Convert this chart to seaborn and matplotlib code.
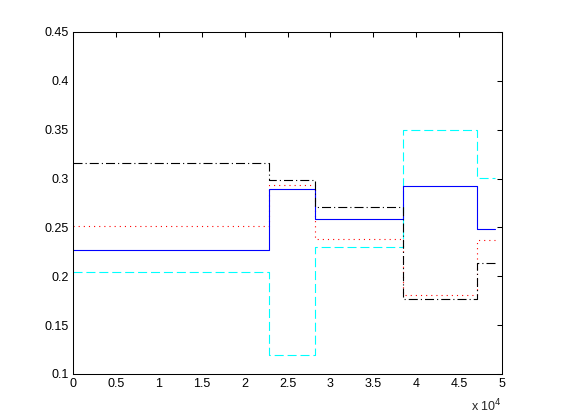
import numpy as np
import pandas as pd
import matplotlib
matplotlib.use("Agg")
import matplotlib.pyplot as plt
import seaborn as sns

# Step edges along x (the last value is repeated so the final segment is drawn)
EDGES = [0, 22840, 28200, 38500, 47120, 49150]

# Level of each series on each segment
BLUE = [0.227, 0.289, 0.259, 0.292, 0.248]
CYAN = [0.204, 0.119, 0.230, 0.350, 0.301]
RED = [0.251, 0.293, 0.238, 0.181, 0.237]
BLACK = [0.316, 0.299, 0.271, 0.177, 0.214]

XTICKS = [0, 5000, 10000, 15000, 20000, 25000, 30000, 35000, 40000, 45000, 50000]
XTICK_LABELS = ["0", "0.5", "1", "1.5", "2", "2.5", "3", "3.5", "4", "4.5", "5"]
YTICKS = [0.1, 0.15, 0.2, 0.25, 0.3, 0.35, 0.4, 0.45]
YTICK_LABELS = ["0.1", "0.15", "0.2", "0.25", "0.3", "0.35", "0.4", "0.45"]

sns.set_style("white")
plt.rcParams['font.family'] = ['Liberation Sans', 'DejaVu Sans']
plt.rcParams['lines.scale_dashes'] = False


def step_frame(levels):
    return pd.DataFrame({"x": EDGES, "y": list(levels) + [levels[-1]]})


fig = plt.figure(figsize=(5.61, 4.2), dpi=100)
ax = fig.add_axes([73 / 561, 46 / 420, 429 / 561, 342 / 420])

# (series, colour, line style)
series = [
    (CYAN, "#00ffff", (0, (6.5, 2.8))),
    (RED, "#ff0000", (0, (0.8, 2.9))),
    (BLUE, "#0000ff", "-"),
    (BLACK, "#000000", (0, (6.5, 2.2, 0.8, 2.2))),
]
for levels, color, ls in series:
    sns.lineplot(data=step_frame(levels), x="x", y="y", ax=ax, color=color,
                 linestyle=ls, linewidth=0.8, drawstyle="steps-post",
                 estimator=None, sort=False)

ax.set_xlim(0, 50000)
ax.set_ylim(0.1, 0.45)
ax.set_xticks(XTICKS)
ax.set_xticklabels(XTICK_LABELS)
ax.set_yticks(YTICKS)
ax.set_yticklabels(YTICK_LABELS)
ax.set_xlabel("")
ax.set_ylabel("")
ax.tick_params(direction="in", length=3.6, width=0.75, labelsize=9,
               top=True, right=True, colors="black", pad=3)
for sp in ax.spines.values():
    sp.set_visible(True)
    sp.set_color("black")
    sp.set_linewidth(0.75)

ax.text(1.0, -0.07, r"x 10$^{4}$", transform=ax.transAxes, ha="right",
        va="top", fontsize=9)

fig.savefig("out.png", dpi=100, facecolor="white")
